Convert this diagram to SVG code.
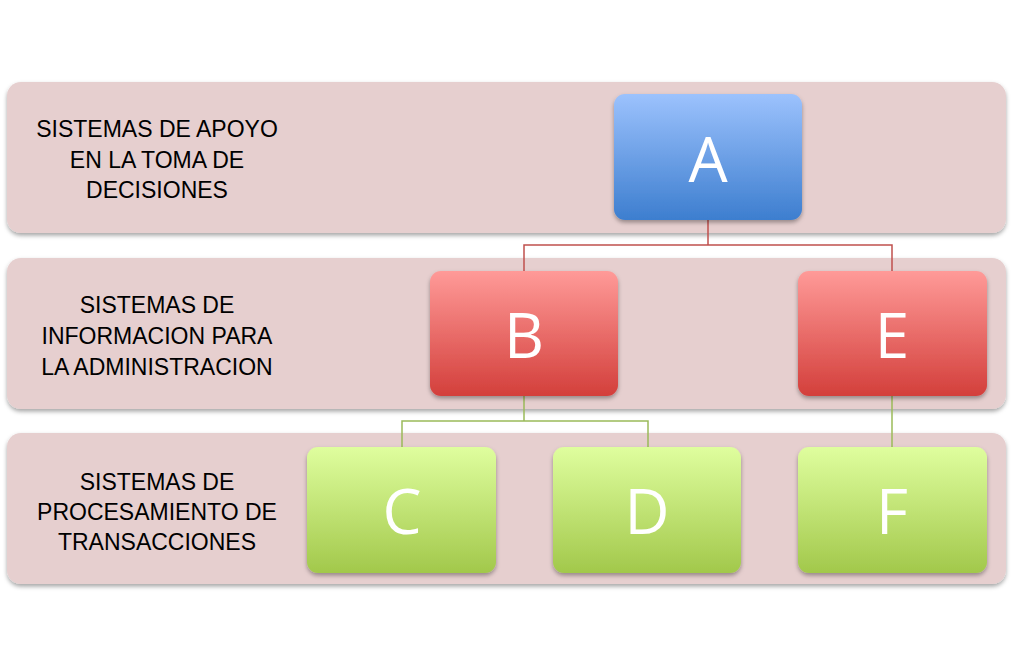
<svg xmlns="http://www.w3.org/2000/svg" width="1014" height="667" viewBox="0 0 1014 667">
<defs>
<linearGradient id="gBlue" x1="0" y1="0" x2="0" y2="1"><stop offset="0" stop-color="#9cc2fd"/><stop offset="1" stop-color="#3d7ecf"/></linearGradient>
<linearGradient id="gRed" x1="0" y1="0" x2="0" y2="1"><stop offset="0" stop-color="#ff9a98"/><stop offset="1" stop-color="#d33f3b"/></linearGradient>
<linearGradient id="gGreen" x1="0" y1="0" x2="0" y2="1"><stop offset="0" stop-color="#dffe9e"/><stop offset="1" stop-color="#a2c84b"/></linearGradient>
<filter id="sh" x="-10%" y="-10%" width="120%" height="130%"><feDropShadow dx="0" dy="2.5" stdDeviation="2" flood-color="#000" flood-opacity="0.35"/></filter>
<style>
.band{fill:#e6cfcf;filter:url(#sh)}
.node{filter:url(#sh)}
.lbl{font-family:"Liberation Sans",Arial,sans-serif;font-size:23px;fill:#000;text-anchor:middle}
.big{font-family:"Open Sans","Liberation Sans",sans-serif;font-size:62px;fill:#fff;text-anchor:middle}
.cr{fill:none;stroke:#c0504d;stroke-width:1.5}
.cg{fill:none;stroke:#9bbb59;stroke-width:1.5}
</style>
</defs>
<rect width="1014" height="667" fill="#fff"/>
<g id="band1"><rect class="band" x="7" y="82" width="999" height="151" rx="14"/>
<text class="lbl" x="157" y="137">SISTEMAS DE APOYO</text><text class="lbl" x="157" y="168">EN LA TOMA DE</text><text class="lbl" x="157" y="198">DECISIONES</text></g>
<g id="band2"><rect class="band" x="7" y="258" width="999" height="151" rx="14"/>
<text class="lbl" x="157" y="313">SISTEMAS DE</text><text class="lbl" x="157" y="344">INFORMACION PARA</text><text class="lbl" x="157" y="375">LA ADMINISTRACION</text></g>
<g id="band3"><rect class="band" x="7" y="433" width="999" height="151" rx="14"/>
<text class="lbl" x="157" y="490">SISTEMAS DE</text><text class="lbl" x="157" y="520">PROCESAMIENTO DE</text><text class="lbl" x="157" y="550">TRANSACCIONES</text></g>
<g id="connectors">
<path class="cr" d="M708 220V245M524 271V245H892V271"/>
<path class="cg" d="M524 396V421M402 447V421H648V447"/>
<path class="cg" d="M892 396V447"/>
</g>
<g id="A"><rect class="node" x="614" y="94" width="188" height="126" rx="11" fill="url(#gBlue)"/><text class="big" x="708" y="182">A</text></g>
<g id="B"><rect class="node" x="430" y="271" width="188" height="125" rx="11" fill="url(#gRed)"/><text class="big" x="524" y="358">B</text></g>
<g id="E"><rect class="node" x="798" y="271" width="189" height="125" rx="11" fill="url(#gRed)"/><text class="big" x="892" y="358">E</text></g>
<g id="C"><rect class="node" x="307" y="447" width="189" height="126" rx="11" fill="url(#gGreen)"/><text class="big" x="402" y="534">C</text></g>
<g id="D"><rect class="node" x="553" y="447" width="188" height="126" rx="11" fill="url(#gGreen)"/><text class="big" x="647" y="534">D</text></g>
<g id="F"><rect class="node" x="798" y="447" width="189" height="126" rx="11" fill="url(#gGreen)"/><text class="big" x="892" y="534">F</text></g>
</svg>
